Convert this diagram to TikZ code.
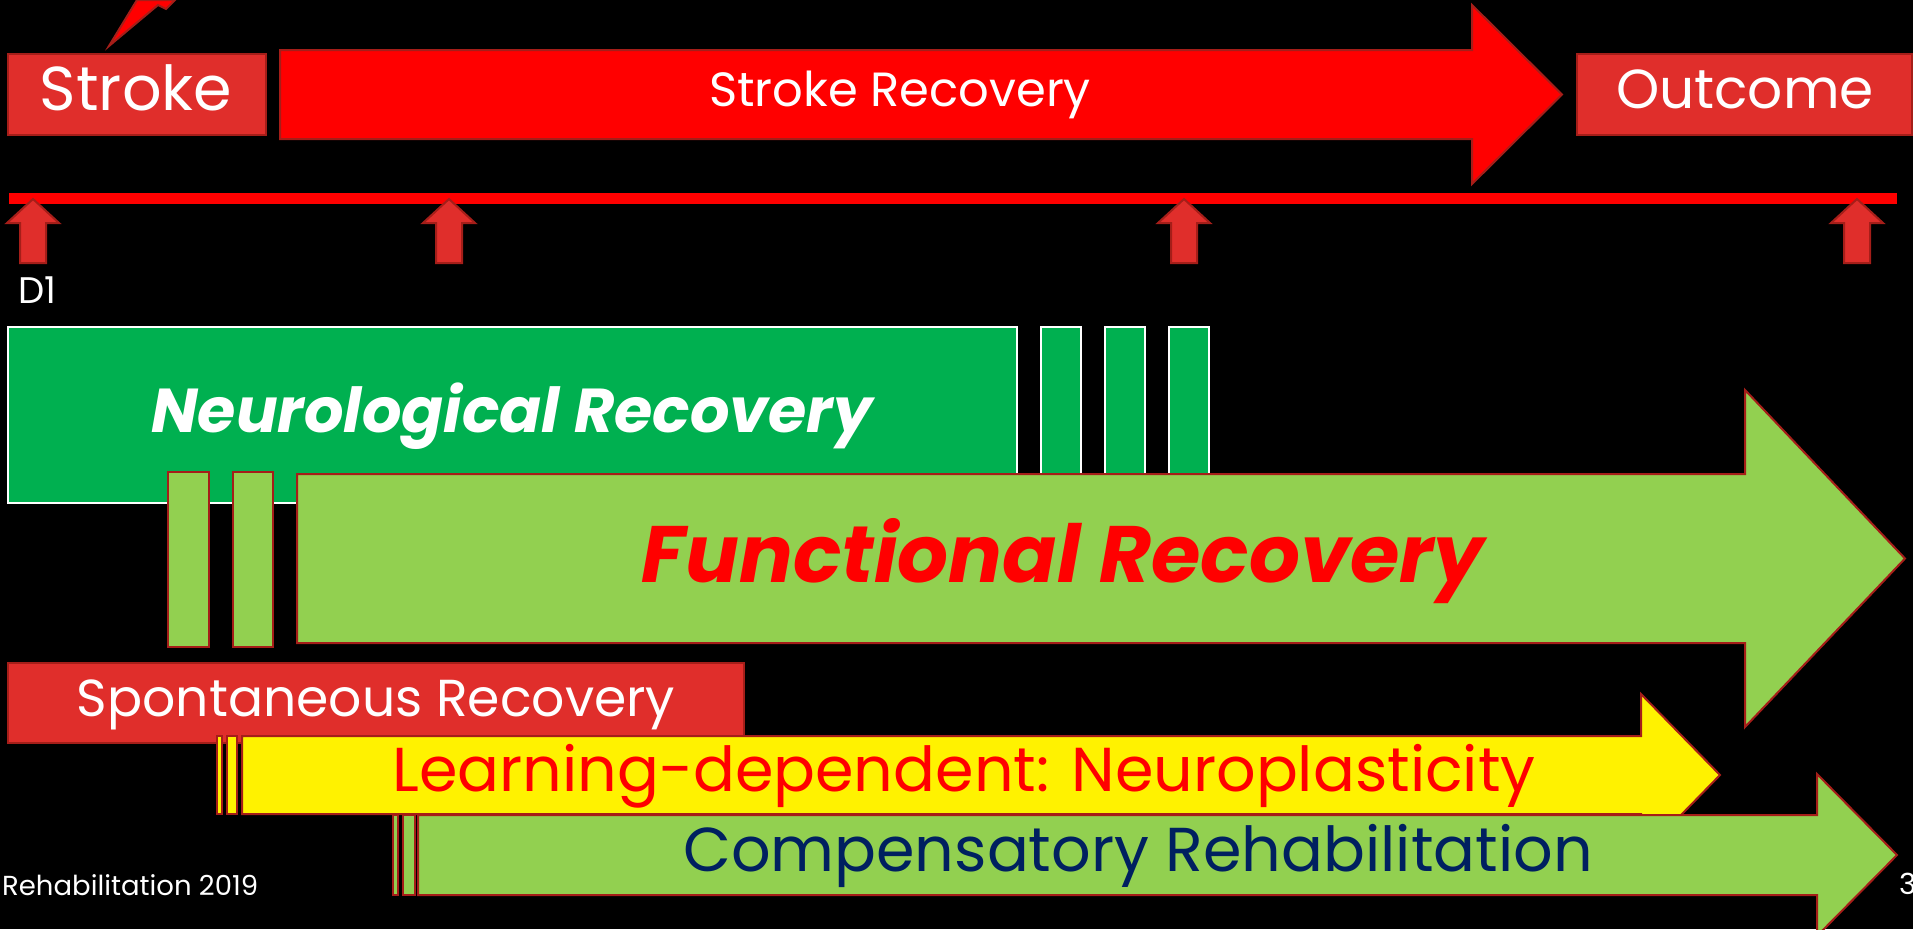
\documentclass[tikz,border=0pt]{standalone}
\usepackage{fontspec}
\setmainfont{Poppins}
\definecolor{boxred}{RGB}{224,46,43}
\definecolor{edgered}{RGB}{165,30,25}
\definecolor{neurogreen}{RGB}{0,176,80}
\definecolor{funcgreen}{RGB}{146,208,80}
\definecolor{navytext}{RGB}{0,32,96}
\newcommand{\fsz}[1]{\fontsize{#1}{#1}\selectfont}
\begin{document}
\begin{tikzpicture}[x=1pt,y=-1pt,
    redbox/.style={fill=boxred, draw=edgered, line width=2pt},
    bigarrow/.style={fill=red, draw=edgered, line width=2pt},
    neurobox/.style={fill=neurogreen, draw=white, line width=2pt},
    funcbox/.style={fill=funcgreen, draw=edgered, line width=2pt},
    yellowbox/.style={fill=yellow, draw=edgered, line width=2pt},
    lbl/.style={inner sep=0pt, anchor=base, text=white}]

    \fill[black] (0,0) rectangle (1913,929);
    \clip (0,0) rectangle (1913,929);

    % top row
    \filldraw[bigarrow] (109,46) -- (137,0) -- (175,0) -- (166,9) -- (158,5) -- cycle;
    \filldraw[redbox] (8,54) rectangle (266,135);
    \filldraw[bigarrow] (280,50) -- (1472,50) -- (1472,5) -- (1562,94.5) -- (1472,184) -- (1472,139) -- (280,139) -- cycle;
    \filldraw[redbox] (1577,54) rectangle (1912,135);
    \node[lbl, font=\fsz{62}] (stroke) at (136,110) {Stroke};
    \node[lbl, font=\fsz{48}] (recovery) at (900,106) {Stroke Recovery};
    \node[lbl, font=\fsz{55}] (outcome) at (1745,108) {Outcome};

    % timeline
    \draw[line width=11pt, red] (9,198.5) -- (1897,198.5);
    \filldraw[redbox] (33,199) -- (59,223) -- (46,223) -- (46,263) -- (20,263) -- (20,223) -- (7,223) -- cycle;
    \filldraw[redbox] (449,199) -- (475,223) -- (462,223) -- (462,263) -- (436,263) -- (436,223) -- (423,223) -- cycle;
    \filldraw[redbox] (1184,199) -- (1210,223) -- (1197,223) -- (1197,263) -- (1171,263) -- (1171,223) -- (1158,223) -- cycle;
    \filldraw[redbox] (1857,199) -- (1883,223) -- (1870,223) -- (1870,263) -- (1844,263) -- (1844,223) -- (1831,223) -- cycle;
    \node[lbl, anchor=base west, font=\fsz{37}] (dayone) at (18,303) {D1};

    % neurological recovery
    \filldraw[neurobox] (8,327) rectangle (1017,503);
    \filldraw[neurobox] (1041,327) rectangle (1081,474);
    \filldraw[neurobox] (1105,327) rectangle (1145,474);
    \filldraw[neurobox] (1169,327) rectangle (1209,474);
    \node[lbl, font=\fsz{62}\bfseries\itshape] (neuro) at (512,432) {Neurological Recovery};

    % functional recovery
    \filldraw[funcbox] (168,472) rectangle (209,647);
    \filldraw[funcbox] (233,472) rectangle (273,647);
    \filldraw[funcbox] (297,474) -- (1745,474) -- (1745,390) -- (1905,558.5) -- (1745,727) -- (1745,643) -- (297,643) -- cycle;
    \node[lbl, text=red, font=\fsz{80}\bfseries\itshape] (functional) at (1063,582) {Functional Recovery};

    % lower rows
    \filldraw[redbox] (8,663) rectangle (744,743);
    \node[lbl, font=\fsz{52}] (spontaneous) at (376,716) {Spontaneous Recovery};

    \filldraw[yellowbox] (217,736) rectangle (222,814);
    \filldraw[yellowbox] (227,736) rectangle (237,814);
    \filldraw[yellowbox] (242,736) -- (1641,736) -- (1641,694) -- (1720,775) -- (1641,856) -- (1641,814) -- (242,814) -- cycle;
    \node[lbl, text=red, font=\fsz{62}] (learning) at (964,791) {Learning-dependent: Neuroplasticity};

    \filldraw[funcbox] (393,815) rectangle (398,895);
    \filldraw[funcbox] (403,815) rectangle (415,895);
    \filldraw[funcbox] (418,815) -- (1817,815) -- (1817,774) -- (1897,855) -- (1817,936) -- (1817,895) -- (418,895) -- cycle;
    \node[lbl, text=navytext, font=\fsz{62}] (compensatory) at (1138,871) {Compensatory Rehabilitation};

    % footer
    \node[lbl, anchor=base west, font=\fsz{27.5}] (footer) at (2,895) {Rehabilitation 2019};
    \node[lbl, anchor=base west, font=\fsz{29}] (pagenum) at (1899,894) {3};
\end{tikzpicture}
\end{document}
